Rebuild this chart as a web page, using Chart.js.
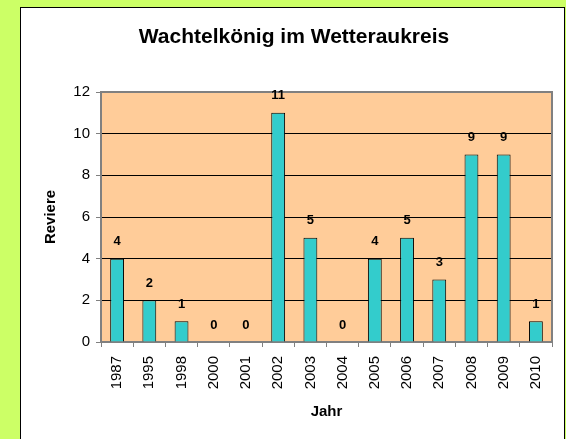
<!DOCTYPE html>
<html>
<head>
<meta charset="utf-8">
<script src="https://cdn.jsdelivr.net/npm/chart.js@4"></script>
<style>
  html, body { margin: 0; padding: 0; background: #CCFF66; width: 566px; height: 439px; overflow: hidden; }
  #panel { position: absolute; left: 20px; top: 7px; width: 543px; height: 460px; background: #fff; border: 1px solid #000; }
  #wrap { position: absolute; left: 22px; top: 0; width: 544px; height: 439px; }
</style>
</head>
<body>
<div id="panel"></div>
<div id="wrap"><canvas id="chart" width="544" height="439"></canvas></div>
<script>
const years = ['1987', '1995', '1998', '2000', '2001', '2002', '2003', '2004', '2005', '2006', '2007', '2008', '2009', '2010'];
const reviere = [4, 2, 1, 0, 0, 11, 5, 0, 4, 5, 3, 9, 9, 1];
const yTicks = [0, 2, 4, 6, 8, 10, 12];

// orange plot background + grey frame
const plotFrame = {
  id: 'plotFrame',
  beforeDraw(chart) {
    const { ctx, chartArea: a } = chart;
    ctx.save();
    ctx.fillStyle = '#FFCC99';
    ctx.fillRect(a.left, a.top, a.right - a.left, a.bottom - a.top);
    ctx.restore();
  },
  beforeDatasetsDraw(chart) {
    const { ctx, chartArea: a } = chart;
    ctx.save();
    ctx.strokeStyle = '#808080';
    ctx.lineWidth = 2;
    ctx.strokeRect(a.left, a.top, a.right - a.left, a.bottom - a.top);
    ctx.restore();
  }
};

// value labels above bars
const valueLabels = {
  id: 'valueLabels',
  afterDatasetsDraw(chart) {
    const { ctx } = chart;
    const meta = chart.getDatasetMeta(0);
    ctx.save();
    ctx.font = 'bold 13px Arial, "Liberation Sans", sans-serif';
    ctx.fillStyle = '#000';
    ctx.textAlign = 'center';
    ctx.textBaseline = 'middle';
    meta.data.forEach((bar, i) => {
      ctx.fillText(String(reviere[i]), bar.x, bar.y - 17);
    });
    ctx.restore();
  }
};

new Chart(document.getElementById('chart'), {
  type: 'bar',
  data: {
    labels: years,
    datasets: [{
      data: reviere,
      backgroundColor: '#33CCCC',
      borderColor: '#000',
      borderWidth: 1,
      barPercentage: 1,
      categoryPercentage: 0.43
    }]
  },
  options: {
    responsive: false,
    animation: false,
    layout: { padding: { left: 14, right: 14, top: 0, bottom: 0 } },
    plugins: {
      legend: { display: false },
      tooltip: { enabled: false },
      title: {
        display: true,
        text: 'Wachtelkönig im Wetteraukreis',
        color: '#000',
        font: { family: 'Arial, "Liberation Sans", sans-serif', size: 21, weight: 'bold' },
        padding: { top: 25, bottom: 41.8 }
      }
    },
    scales: {
      x: {
        afterFit(scale) { scale.height = 97; },
        grid: { display: true, drawOnChartArea: false, tickLength: 5, tickColor: '#808080', offset: true },
        border: { display: false },
        ticks: {
          color: '#000',
          maxRotation: 90,
          minRotation: 90,
          padding: 9,
          font: { family: 'Arial, "Liberation Sans", sans-serif', size: 15 }
        },
        title: {
          display: true,
          text: 'Jahr',
          color: '#000',
          font: { family: 'Arial, "Liberation Sans", sans-serif', size: 15, weight: 'bold' },
          padding: { top: 0, bottom: 18 }
        }
      },
      y: {
        min: 0,
        max: 12,
        afterFit(scale) { scale.width = 65; },
        afterBuildTicks(scale) { scale.ticks = yTicks.map(v => ({ value: v })); },
        grid: {
          color: ctx => (ctx.tick && (ctx.tick.value === 0 || ctx.tick.value === 12)) ? 'rgba(0,0,0,0)' : '#000',
          lineWidth: 1,
          tickLength: 5,
          tickColor: '#808080'
        },
        border: { display: false },
        ticks: {
          color: '#000',
          padding: 6,
          font: { family: 'Arial, "Liberation Sans", sans-serif', size: 15 }
        },
        title: {
          display: true,
          text: 'Reviere',
          color: '#000',
          font: { family: 'Arial, "Liberation Sans", sans-serif', size: 15, weight: 'bold' },
          padding: { top: 6, bottom: 0 }
        }
      }
    }
  },
  plugins: [plotFrame, valueLabels]
});
</script>
</body>
</html>
